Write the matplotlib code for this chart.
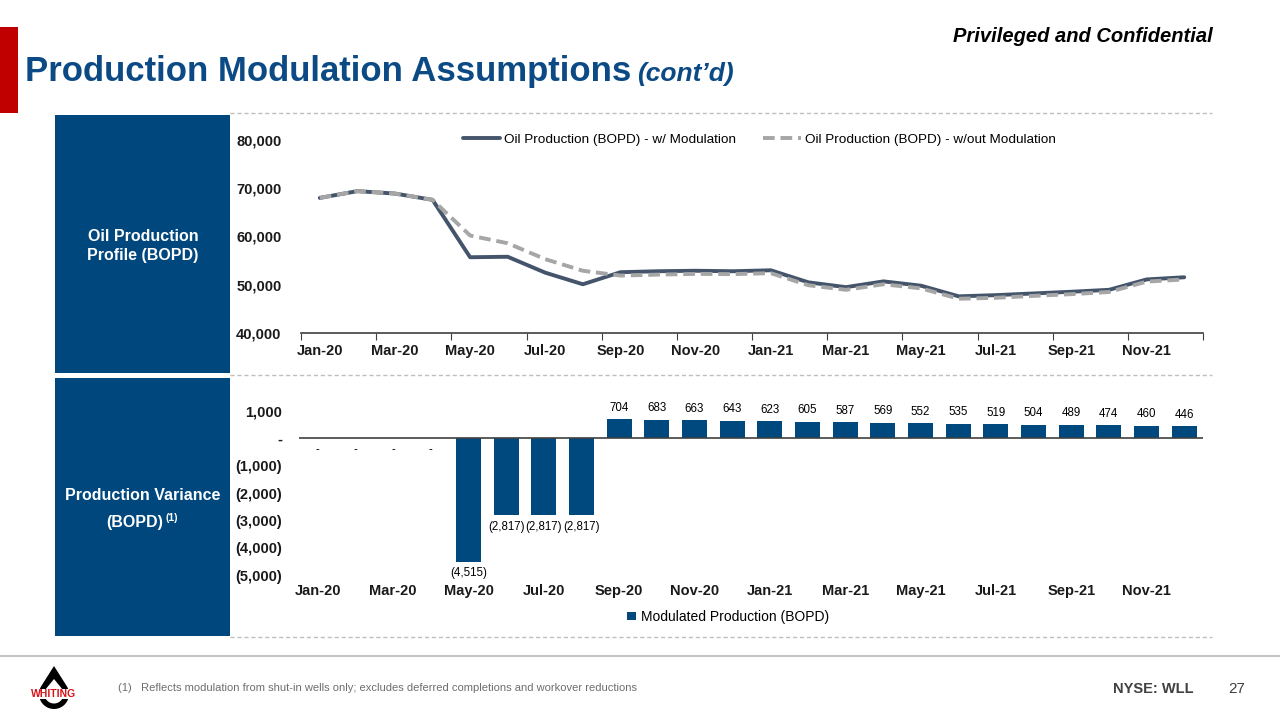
import matplotlib
matplotlib.use("Agg")
import numpy as np
import matplotlib.pyplot as plt
from matplotlib.patches import Rectangle, Polygon
from matplotlib.lines import Line2D
from matplotlib.transforms import blended_transform_factory

plt.rcParams['font.family'] = ['Liberation Sans', 'DejaVu Sans']

# --- data ---
months = ["Jan-20", "Feb-20", "Mar-20", "Apr-20", "May-20", "Jun-20", "Jul-20", "Aug-20",
          "Sep-20", "Oct-20", "Nov-20", "Dec-20", "Jan-21", "Feb-21", "Mar-21", "Apr-21",
          "May-21", "Jun-21", "Jul-21", "Aug-21", "Sep-21", "Oct-21", "Nov-21", "Dec-21"]
oil_with_mod = [68000, 69400, 68900, 67600, 55700, 55800, 52500, 50100,
                52600, 52800, 52900, 52800, 53000, 50500, 49500, 50700,
                49800, 47600, 47850, 48200, 48550, 48950, 51100, 51550]
oil_without_mod = [68000, 69400, 68900, 67600, 60200, 58600, 55300, 52900,
                   51900, 52100, 52250, 52200, 52400, 49900, 48950, 50100,
                   49250, 47100, 47300, 47700, 48050, 48500, 50650, 51100]
modulated = [0, 0, 0, 0, -4515, -2817, -2817, -2817,
             704, 683, 663, 643, 623, 605, 587, 569,
             552, 535, 519, 504, 489, 474, 460, 446]

W, H = 1280, 720
BLUE = '#00497F'
DARK = '#44546A'
GREY = '#A6A6A6'


def fx(px):
    return px / W


def fy(py):
    return 1 - py / H


def acct(v):
    if v == 0:
        return "-"
    if v < 0:
        return "({:,.0f})".format(-v)
    return "{:,.0f}".format(v)


def month_labels(ax, y_px):
    # category labels every 2nd month, baselines aligned
    tr = blended_transform_factory(ax.transData, fig.transFigure)
    for i in range(0, len(months), 2):
        ax.text(i, fy(y_px), months[i], transform=tr, ha='center', va='baseline',
                fontsize=10.5, fontweight='bold', color='#1A1A1A')


fig = plt.figure(figsize=(12.8, 7.2), dpi=100)
fig.patch.set_facecolor('white')

# header
fig.add_artist(Rectangle((0, fy(113)), fx(18), (113 - 27) / H, transform=fig.transFigure,
                         color='#C00000', lw=0))
fig.text(fx(25), fy(72), "Production Modulation Assumptions", fontsize=25, fontweight='bold',
         color='#0B4A84', va='center', ha='left')
fig.text(fx(637), fy(74), "(cont\u2019d)", fontsize=19, fontweight='bold', style='italic',
         color='#0B4A84', va='center', ha='left')
fig.text(fx(1213), fy(37), "Privileged and Confidential", fontsize=14.5, fontweight='bold',
         style='italic', color='black', va='center', ha='right')

# separators
for yy in [113, 375, 637]:
    fig.add_artist(Line2D([fx(230), fx(1212)], [fy(yy), fy(yy)], transform=fig.transFigure,
                          color='#BFBFBF', lw=1, ls=(0, (3, 2))))
fig.add_artist(Line2D([0, 1], [fy(656), fy(656)], transform=fig.transFigure,
                      color='#C4C4C4', lw=1.5))

# blue side panels
fig.add_artist(Rectangle((fx(55), fy(373)), fx(175), (373 - 115) / H, transform=fig.transFigure,
                         color='#00477E', lw=0))
fig.add_artist(Rectangle((fx(55), fy(636)), fx(175), (636 - 378) / H, transform=fig.transFigure,
                         color='#00477E', lw=0))
fig.text(fx(143), fy(246), "Oil Production\nProfile (BOPD)", fontsize=11.5, fontweight='bold',
         color='white', ha='center', va='center', linespacing=1.4)
fig.text(fx(143), fy(495), "Production Variance", fontsize=11.5, fontweight='bold',
         color='white', ha='center', va='center')
fig.text(fx(135), fy(522), "(BOPD)", fontsize=11.5, fontweight='bold',
         color='white', ha='center', va='center')
fig.text(fx(166), fy(518), "(1)", fontsize=7.5, fontweight='bold',
         color='white', ha='left', va='center')

x = list(range(len(months)))

# --- line chart ---
ax1 = fig.add_axes([fx(301), fy(333), 902 / W, 193 / H])
ax1.plot(x, oil_with_mod, color=DARK, lw=2.8, solid_capstyle='round',
         label="Oil Production (BOPD) - w/ Modulation")
ax1.plot(x, oil_without_mod, color=GREY, lw=2.8, ls=(0, (3, 1.5)),
         label="Oil Production (BOPD) - w/out Modulation")
ax1.set_xlim(-0.5, len(months) - 0.5)
ax1.set_ylim(40000, 80000)
ax1.set_yticks([40000, 50000, 60000, 70000, 80000])
ax1.set_yticklabels(["{:,}".format(v) for v in [40000, 50000, 60000, 70000, 80000]])
ax1.set_xticks([i - 0.5 for i in range(0, len(months) + 1, 2)])
ax1.set_xticklabels([])
ax1.tick_params(axis='x', which='major', length=5, color='#404040', direction='out')
ax1.tick_params(axis='y', length=0, pad=14, labelsize=10.5)
for lab in ax1.get_yticklabels():
    lab.set_fontweight('bold')
    lab.set_color('#1A1A1A')
for s in ['top', 'right', 'left']:
    ax1.spines[s].set_visible(False)
ax1.spines['bottom'].set_color('#404040')
ax1.spines['bottom'].set_linewidth(1.2)
month_labels(ax1, 355)
ax1.legend(loc='center', bbox_to_anchor=(0.508, 1.0), ncol=2, frameon=False, fontsize=9.7,
           handlelength=2.8, columnspacing=2.0, handletextpad=0.3)

# --- bar chart ---
ax2 = fig.add_axes([fx(299), fy(575), 904 / W, 164 / H])
ax2.bar(x, modulated, width=0.66, color=BLUE, label="Modulated Production (BOPD)")
ax2.axhline(0, color='#404040', lw=1.2)
ax2.set_xlim(-0.5, len(months) - 0.5)
ax2.set_ylim(-5000, 1000)
yt = [-5000, -4000, -3000, -2000, -1000, 0, 1000]
ax2.set_yticks(yt)
ax2.set_yticklabels([acct(v) for v in yt])
ax2.set_xticks([])
ax2.tick_params(axis='y', length=0, pad=12, labelsize=10.5)
for lab in ax2.get_yticklabels():
    lab.set_fontweight('bold')
    lab.set_color('#1A1A1A')
for s in ax2.spines.values():
    s.set_visible(False)
month_labels(ax2, 595)
for xi, v in zip(x, modulated):
    if v > 0:
        ax2.annotate(acct(v), (xi, v), xytext=(0, 4), textcoords='offset points',
                     ha='center', va='bottom', fontsize=8.3)
    else:
        ax2.annotate(acct(v), (xi, v), xytext=(0, -4), textcoords='offset points',
                     ha='center', va='top', fontsize=8.3)
ax2.legend(loc='center', bbox_to_anchor=(0.475, -0.255), frameon=False, fontsize=10,
           handlelength=0.6, handleheight=0.6, handletextpad=0.4)

# --- footer ---
fig.text(fx(118), fy(688), "(1)   Reflects modulation from shut-in wells only; excludes deferred "
         "completions and workover reductions", fontsize=8, color='#6E6E6E', va='center')
fig.text(fx(1153), fy(689), "NYSE: WLL", fontsize=10.5, fontweight='bold', color='#404040',
         ha='center', va='center')
fig.text(fx(1237), fy(689), "27", fontsize=11, color='#404040', ha='center', va='center')


# logo: teardrop ring
def drop(cx, cy, r, tip_y):
    d = cy - tip_y
    a = np.arccos(r / d)
    t = np.linspace(np.pi / 2 + a, np.pi / 2 - a + 2 * np.pi, 60)
    pts = [(fx(cx), fy(tip_y))]
    pts += [(fx(cx + r * np.cos(tt)), fy(cy - r * np.sin(tt))) for tt in t]
    return pts


fig.add_artist(Polygon(drop(54, 694, 15, 666), closed=True, transform=fig.transFigure,
                       color='black', lw=0))
fig.add_artist(Polygon(drop(54, 694, 9.5, 679), closed=True, transform=fig.transFigure,
                       color='white', lw=0))
fig.add_artist(Rectangle((fx(30), fy(699)), 48 / W, 10 / H, transform=fig.transFigure,
                         color='white', lw=0))
fig.text(fx(54), fy(694), "WHITING", fontsize=7.5, fontweight='bold', color='#D7141A',
         ha='center', va='center')

fig.savefig("out.png", dpi=100)
